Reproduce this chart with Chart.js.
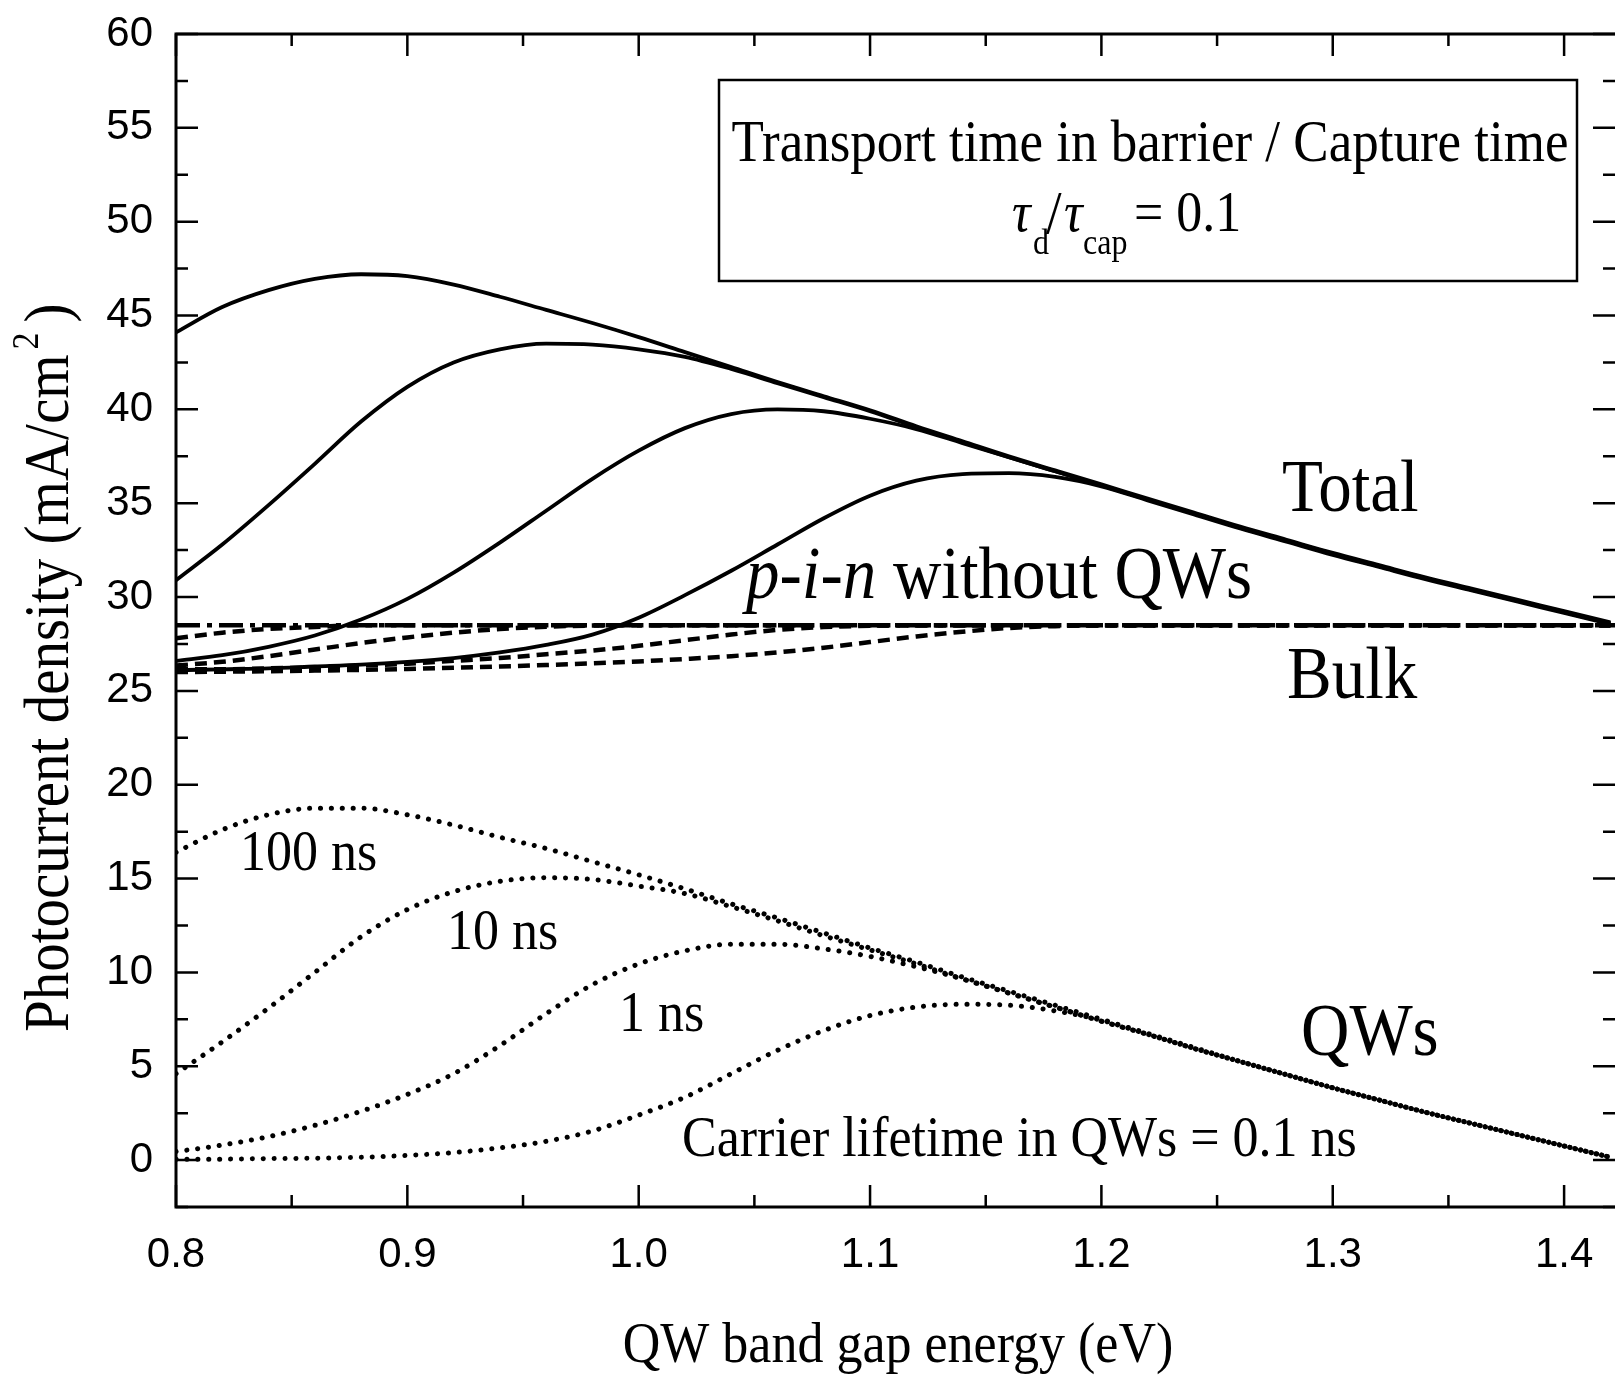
<!DOCTYPE html>
<html>
<head>
<meta charset="utf-8">
<script src="https://cdn.jsdelivr.net/npm/chart.js@4.4.1/dist/chart.umd.min.js"></script>
<style>
  html, body { margin: 0; padding: 0; background: #fff; }
  #wrap { width: 1615px; height: 1376px; }
</style>
</head>
<body>
<div id="wrap"><canvas id="chart" width="1615" height="1376"></canvas></div>
<script>
// ===== Data =====
const energy = [0.80, 0.82, 0.84, 0.86, 0.88, 0.90, 0.92, 0.94, 0.96, 0.98,
                1.00, 1.02, 1.04, 1.06, 1.08, 1.10, 1.12, 1.14, 1.16, 1.18,
                1.20, 1.22, 1.24, 1.26, 1.28, 1.30, 1.32, 1.34, 1.36, 1.38,
                1.40, 1.42];

// total photocurrent, one curve per carrier lifetime in QWs
const total100 = [44.1, 45.45, 46.35, 46.95, 47.2, 47.1, 46.65, 46.0, 45.3, 44.6,
                  43.85, 43.05, 42.25, 41.45, 40.7, 39.95, 39.1, 38.3, 37.5, 36.75,
                  36.0, 35.25, 34.5, 33.75, 33.05, 32.35, 31.7, 31.05, 30.45, 29.85,
                  29.25, 28.65];
const total10 = [30.9, 32.8, 34.9, 37.1, 39.35, 41.2, 42.5, 43.2, 43.5, 43.45,
                 43.2, 42.8, 42.15, 41.4, 40.65, 39.9, 39.05, 38.25, 37.45, 36.7,
                 35.95, 35.2, 34.45, 33.7, 33.0, 32.3, 31.65, 31.0, 30.4, 29.8,
                 29.2, 28.6];
const total1 = [26.6, 26.9, 27.35, 27.95, 28.8, 29.9, 31.3, 32.9, 34.6, 36.3,
                37.8, 39.0, 39.75, 40.0, 39.9, 39.5, 38.95, 38.2, 37.45, 36.7,
                35.95, 35.2, 34.45, 33.7, 33.0, 32.3, 31.65, 31.0, 30.4, 29.8,
                29.2, 28.6];
const total01 = [26.1, 26.15, 26.2, 26.3, 26.4, 26.55, 26.75, 27.05, 27.45, 28.0,
                 28.9, 30.1, 31.4, 32.8, 34.2, 35.4, 36.2, 36.55, 36.6, 36.4,
                 35.9, 35.15, 34.4, 33.65, 32.95, 32.25, 31.6, 30.95, 30.35, 29.75,
                 29.15, 28.55];

// photocurrent from the QWs
const qw100 = [16.4, 17.6, 18.4, 18.75, 18.75, 18.4, 17.85, 17.2, 16.6, 15.9,
               15.2, 14.45, 13.65, 12.9, 12.1, 11.3, 10.55, 9.75, 9.0, 8.25,
               7.5, 6.75, 6.0, 5.25, 4.55, 3.85, 3.2, 2.55, 1.95, 1.35,
               0.75, 0.15];
const qw10 = [4.6, 6.3, 8.1, 10.0, 11.9, 13.35, 14.3, 14.85, 15.05, 14.95,
              14.6, 14.2, 13.5, 12.75, 11.95, 11.2, 10.45, 9.65, 8.9, 8.15,
              7.4, 6.7, 5.95, 5.25, 4.55, 3.85, 3.2, 2.55, 1.95, 1.35,
              0.75, 0.15];
const qw1 = [0.45, 0.8, 1.25, 1.85, 2.6, 3.5, 4.6, 6.1, 7.8, 9.35,
             10.45, 11.15, 11.5, 11.5, 11.25, 10.85, 10.3, 9.65, 8.9, 8.15,
             7.4, 6.7, 5.95, 5.25, 4.55, 3.85, 3.2, 2.55, 1.95, 1.35,
             0.75, 0.15];
const qw01 = [0.05, 0.05, 0.08, 0.1, 0.15, 0.25, 0.4, 0.65, 1.0, 1.55,
              2.4, 3.35, 4.6, 5.85, 6.9, 7.7, 8.15, 8.3, 8.25, 7.95,
              7.45, 6.7, 5.95, 5.25, 4.55, 3.85, 3.2, 2.55, 1.95, 1.35,
              0.75, 0.15];

// photocurrent from the bulk
const bulk100 = [27.8, 28.1, 28.3, 28.4, 28.5, 28.5, 28.5, 28.5, 28.5, 28.5,
                 28.5, 28.5, 28.5, 28.5, 28.5, 28.5, 28.5, 28.5, 28.5, 28.5,
                 28.5, 28.5, 28.5, 28.5, 28.5, 28.5, 28.5, 28.5, 28.5, 28.5,
                 28.5, 28.5];
const bulk10 = [26.35, 26.55, 26.85, 27.2, 27.55, 27.85, 28.1, 28.3, 28.42, 28.48,
                28.5, 28.5, 28.5, 28.5, 28.5, 28.5, 28.5, 28.5, 28.5, 28.5,
                28.5, 28.5, 28.5, 28.5, 28.5, 28.5, 28.5, 28.5, 28.5, 28.5,
                28.5, 28.5];
const bulk1 = [26.15, 26.15, 26.2, 26.25, 26.35, 26.45, 26.6, 26.75, 26.95, 27.15,
               27.4, 27.7, 28.0, 28.25, 28.4, 28.47, 28.5, 28.5, 28.5, 28.5,
               28.5, 28.5, 28.5, 28.5, 28.5, 28.5, 28.5, 28.5, 28.5, 28.5,
               28.5, 28.5];
const bulk01 = [26.0, 26.02, 26.05, 26.08, 26.12, 26.17, 26.23, 26.3, 26.38, 26.47,
                26.57, 26.7, 26.85, 27.05, 27.3, 27.6, 27.9, 28.15, 28.35, 28.45,
                28.5, 28.5, 28.5, 28.5, 28.5, 28.5, 28.5, 28.5, 28.5, 28.5,
                28.5, 28.5];

// p-i-n without QWs
const pinEnergy = [0.80, 1.422];
const pinValues = [28.5, 28.5];

const xTicks = [0.8, 0.9, 1.0, 1.1, 1.2, 1.3, 1.4];
const yTicks = [0, 5, 10, 15, 20, 25, 30, 35, 40, 45, 50, 55, 60];

// ===== Styles =====
const SERIF = '"Liberation Serif", "Times New Roman", serif';
const SANS = '"Liberation Sans", Arial, sans-serif';

function series(xs, ys, dash, width, cap) {
  return {
    data: xs.map((e, i) => ({ x: e, y: ys[i] })),
    borderColor: "#000",
    borderWidth: width,
    borderDash: dash,
    borderCapStyle: cap || "butt",
    pointRadius: 0,
    fill: false,
    cubicInterpolationMode: "monotone"
  };
}

const DASHED = [12, 7];
const DOTTED = [0.1, 10.8];
const DASHDOT = [24, 7, 5, 7];

// ===== Frame with inward ticks =====
const framePlugin = {
  id: "frame",
  afterDraw(chart) {
    const { ctx, chartArea: a, scales: { x, y } } = chart;
    ctx.save();
    ctx.strokeStyle = "#000";
    ctx.lineWidth = 3;
    ctx.beginPath();
    ctx.moveTo(a.right, a.top);
    ctx.lineTo(a.left, a.top);
    ctx.lineTo(a.left, a.bottom);
    ctx.lineTo(a.right, a.bottom);
    ctx.stroke();

    ctx.lineWidth = 2.5;
    ctx.beginPath();
    xTicks.forEach(v => {
      [v, v + 0.05].forEach((t, k) => {
        const px = x.getPixelForValue(t);
        if (px > a.right) return;
        const len = k === 0 ? 22 : 12;
        ctx.moveTo(px, a.bottom); ctx.lineTo(px, a.bottom - len);
        ctx.moveTo(px, a.top); ctx.lineTo(px, a.top + len);
      });
    });
    yTicks.forEach(v => {
      [v, v - 2.5].forEach((t, k) => {
        const py = y.getPixelForValue(t);
        if (py > a.bottom) return;
        const len = k === 0 ? 22 : 12;
        ctx.moveTo(a.left, py); ctx.lineTo(a.left + len, py);
        ctx.moveTo(a.right, py); ctx.lineTo(a.right - len, py);
      });
    });
    ctx.stroke();
    ctx.restore();
  }
};

// text drawn a bit taller than wide, like the original
function stretchText(ctx, text, x, y, font, align) {
  ctx.save();
  ctx.translate(x, y);
  ctx.scale(1, 1.1);
  ctx.font = font;
  ctx.textAlign = align || "left";
  ctx.textBaseline = "alphabetic";
  ctx.fillStyle = "#000";
  ctx.fillText(text, 0, 0);
  const w = ctx.measureText(text).width;
  ctx.restore();
  return w;
}

const labelPlugin = {
  id: "labels",
  afterDraw(chart) {
    const ctx = chart.ctx;
    const big = "67px " + SERIF;
    const mid = "52px " + SERIF;

    stretchText(ctx, "Total", 1282, 511, big);
    const w = stretchText(ctx, "p-i-n", 746, 598, "italic " + big);
    stretchText(ctx, " without QWs", 746 + w, 598, big);
    stretchText(ctx, "Bulk", 1287, 698, big);
    stretchText(ctx, "QWs", 1301, 1055, big);

    stretchText(ctx, "100 ns", 240, 870, mid);
    stretchText(ctx, "10 ns", 447, 949, mid);
    stretchText(ctx, "1 ns", 619, 1031, mid);
    stretchText(ctx, "Carrier lifetime in QWs = 0.1 ns", 682, 1156, mid);

    // box with the time ratio
    ctx.save();
    ctx.strokeStyle = "#000";
    ctx.lineWidth = 2.5;
    ctx.strokeRect(719, 80, 858, 201);
    ctx.restore();
    stretchText(ctx, "Transport time in barrier / Capture time", 1150, 161, "53px " + SERIF, "center");
    stretchText(ctx, "\u03c4", 1012, 231, "italic " + mid);
    stretchText(ctx, "d", 1033, 254, "32px " + SERIF);
    stretchText(ctx, "/", 1046, 233, "56px " + SERIF);
    stretchText(ctx, "\u03c4", 1064, 231, "italic " + mid);
    stretchText(ctx, "cap", 1083, 254, "32px " + SERIF);
    stretchText(ctx, "= 0.1", 1134, 231, mid);

    // axis titles
    stretchText(ctx, "QW band gap energy (eV)", 898, 1362, mid, "center");

    ctx.save();
    ctx.translate(68, 1032);
    ctx.rotate(-Math.PI / 2);
    const tw = stretchText(ctx, "Photocurrent density (mA/cm", 0, 0, "57px " + SERIF);
    stretchText(ctx, "2", tw + 5, -30, "34px " + SERIF);
    stretchText(ctx, ")", tw + 32, 0, "57px " + SERIF);
    ctx.restore();
  }
};

// ===== Chart =====
document.addEventListener("DOMContentLoaded", () => {
  const ctx = document.getElementById("chart").getContext("2d");

  new Chart(ctx, {
    type: "line",
    data: {
      datasets: [
        series(energy, bulk100, DASHED, 4.5),
        series(energy, bulk10, DASHED, 4.5),
        series(energy, bulk1, DASHED, 4.5),
        series(energy, bulk01, DASHED, 4.5),
        series(pinEnergy, pinValues, DASHDOT, 4.5),
        series(energy, qw100, DOTTED, 5, "round"),
        series(energy, qw10, DOTTED, 5, "round"),
        series(energy, qw1, DOTTED, 5, "round"),
        series(energy, qw01, DOTTED, 5, "round"),
        series(energy, total100, [], 3.8),
        series(energy, total10, [], 3.8),
        series(energy, total1, [], 3.8),
        series(energy, total01, [], 3.8)
      ]
    },
    options: {
      responsive: false,
      animation: false,
      layout: { padding: { top: 34, right: 0, bottom: 0, left: 0 } },
      plugins: {
        legend: { display: false },
        tooltip: { enabled: false }
      },
      scales: {
        x: {
          type: "linear",
          min: 0.8,
          max: 1.422,
          afterBuildTicks: s => { s.ticks = xTicks.map(v => ({ value: v })); },
          afterFit: s => {
            s.height = 169;
            s.paddingLeft = 0; s.paddingRight = 0;
          },
          grid: { display: false, drawTicks: false },
          border: { display: false },
          ticks: {
            autoSkip: false,
            maxRotation: 0,
            padding: 23,
            color: "#000",
            font: { family: SANS, size: 42 },
            callback: v => v.toFixed(1)
          }
        },
        y: {
          type: "linear",
          min: -2.5,
          max: 60,
          afterBuildTicks: s => { s.ticks = yTicks.map(v => ({ value: v })); },
          afterFit: s => {
            s.width = 176;
            s.paddingTop = 0; s.paddingBottom = 0;
          },
          grid: { display: false, drawTicks: false },
          border: { display: false },
          ticks: {
            padding: 23,
            color: "#000",
            font: { family: SANS, size: 42 },
            callback: v => String(v)
          }
        }
      }
    },
    plugins: [framePlugin, labelPlugin]
  });
});
</script>
</body>
</html>
